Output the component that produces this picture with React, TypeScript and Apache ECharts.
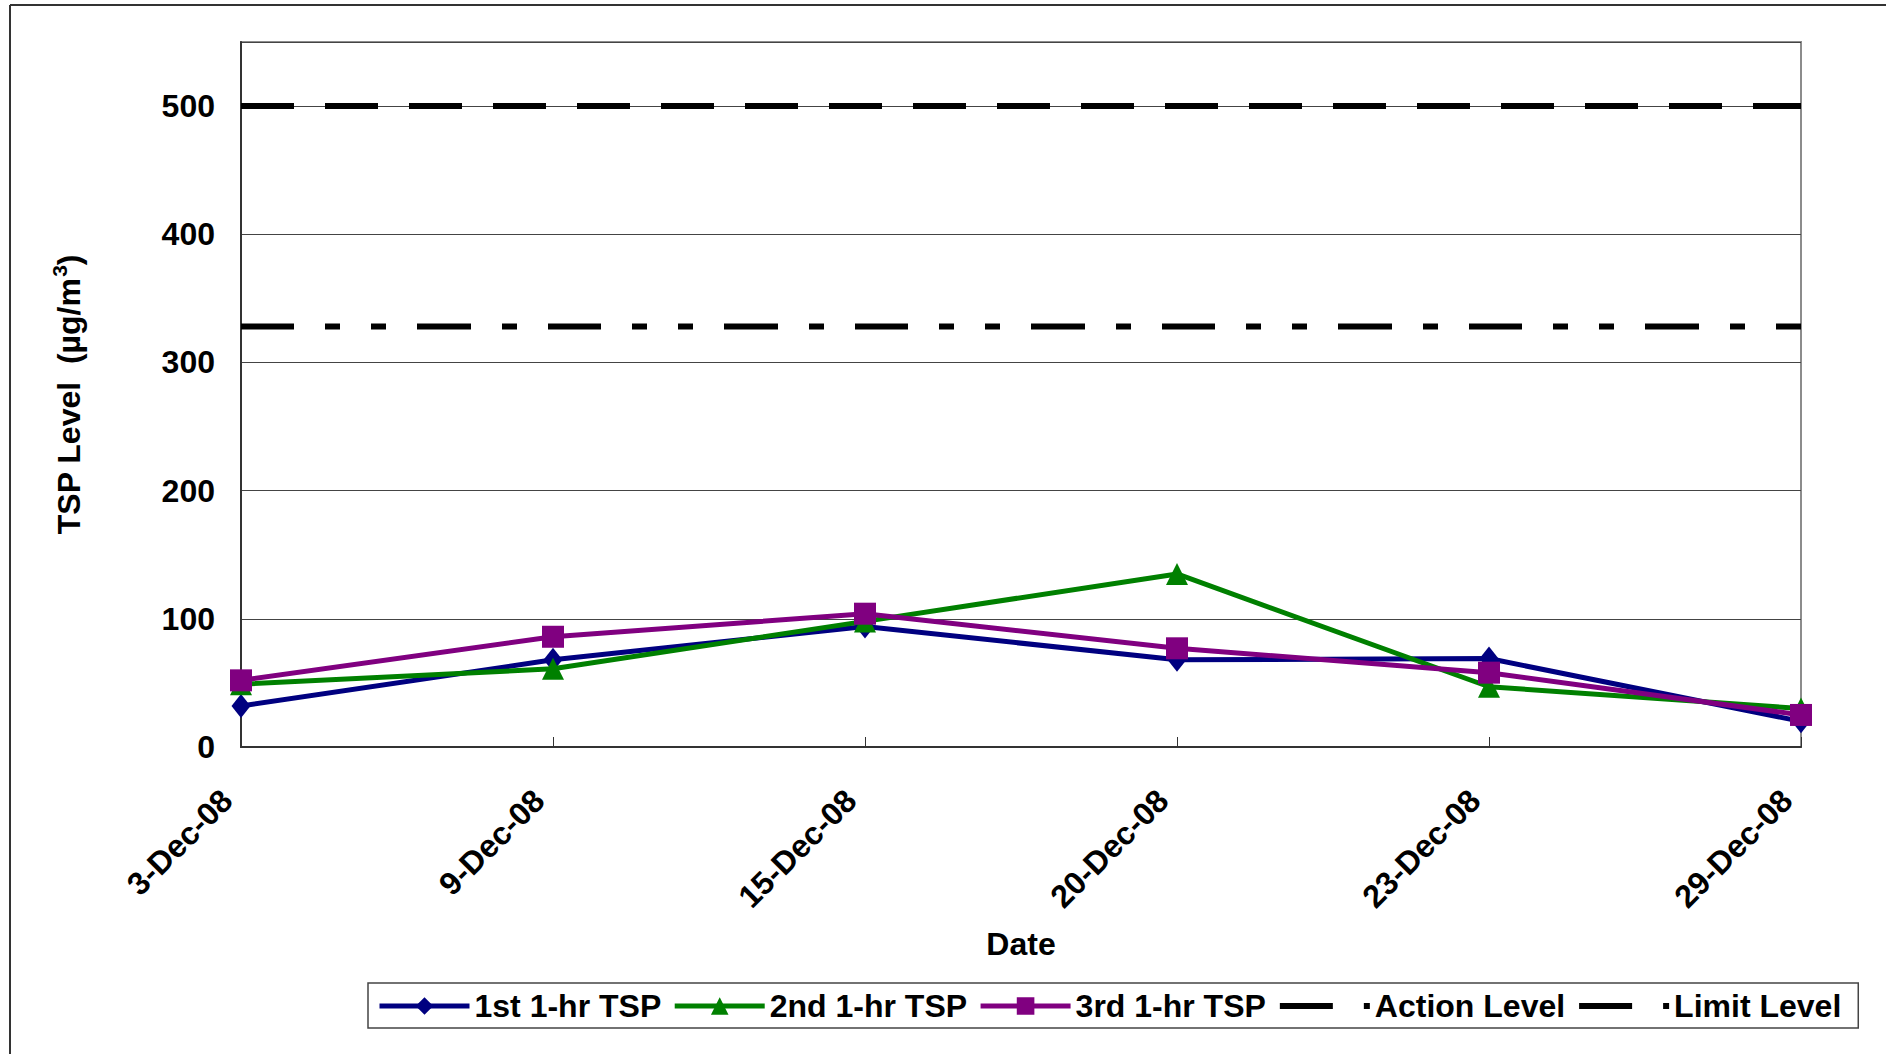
import React, { useEffect, useRef } from 'react';
import * as echarts from 'echarts';

const dates = ['3-Dec-08', '9-Dec-08', '15-Dec-08', '20-Dec-08', '23-Dec-08', '29-Dec-08'];
const tsp1 = [32, 68, 94, 68, 69, 20];
const tsp2 = [49, 61, 98, 135, 47, 30];
const tsp3 = [52, 86, 104, 77, 58, 25];
const actionLevel = [328, 328, 328, 328, 328, 328];
const limitLevel = [500, 500, 500, 500, 500, 500];
const seriesNames = ['1st 1-hr TSP', '2nd 1-hr TSP', '3rd 1-hr TSP', 'Action Level', 'Limit Level'];

const FONT = "'Liberation Sans', Arial, sans-serif";

export default function App() {
  const ref = useRef<HTMLDivElement>(null);
  useEffect(() => {
    if (!ref.current) return;
    const chart = echarts.init(ref.current, undefined, { renderer: 'svg' });
    const bold = { fontFamily: FONT, fontWeight: 'bold' as const, color: '#000', fontSize: 32 };
    chart.setOption({
      animation: false,
      backgroundColor: '#fff',
      grid: {
        left: 241, top: 42, width: 1560, height: 705,
        show: true, borderColor: '#8c8c8c', borderWidth: 2, backgroundColor: '#fff',
      },
      graphic: [
        { type: 'line', shape: { x1: 10, y1: 5, x2: 1886, y2: 5 }, style: { stroke: '#333', lineWidth: 2 } },
        { type: 'line', shape: { x1: 10, y1: 5, x2: 10, y2: 1054 }, style: { stroke: '#333', lineWidth: 2 } },
      ],
      xAxis: {
        type: 'category',
        data: dates,
        boundaryGap: false,
        name: 'Date',
        nameLocation: 'middle',
        nameGap: 181,
        nameTextStyle: bold,
        axisLine: { lineStyle: { color: '#333', width: 2 } },
        axisTick: { show: true, inside: true, length: 10, lineStyle: { color: '#333', width: 1 } },
        axisLabel: { ...bold, rotate: 45, margin: 34, padding: [0, 20, 0, 0], interval: 0 },
        splitLine: { show: false },
      },
      yAxis: {
        type: 'value',
        min: 0,
        max: 550,
        interval: 100,
        name: '{a|TSP Level  (µg/m}{s|3}{a|)}',
        nameLocation: 'middle',
        nameGap: 152,
        nameRotate: 90,
        nameTextStyle: {
          ...bold,
          rich: {
            a: { ...bold, lineHeight: 40 },
            s: { fontFamily: FONT, fontWeight: 'bold', color: '#000', fontSize: 21, verticalAlign: 'top', lineHeight: 40, padding: [0, 0, 0, 1] },
          },
        },
        axisLine: { show: true, lineStyle: { color: '#333', width: 2 } },
        axisTick: { show: false },
        axisLabel: {
          ...bold,
          margin: 26,
          showMaxLabel: false,
          formatter: (v: number) => (v === 550 ? '' : String(v)),
        },
        splitLine: { show: true, lineStyle: { color: '#444', width: 1 } },
      },
      legend: {
        left: 368,
        top: 983,
        orient: 'horizontal',
        itemWidth: 90,
        itemHeight: 22,
        itemGap: 11,
        padding: [7, 17, 6, 9],
        borderColor: '#444',
        borderWidth: 1.5,
        backgroundColor: '#fff',
        textStyle: { ...bold },
        lineStyle: { width: 'inherit' },
        data: seriesNames,
        selectedMode: false,
      },
      series: [
        {
          name: seriesNames[3], type: 'line', data: actionLevel, symbol: 'none', silent: true, z: 1,
          itemStyle: { color: 'rgba(0,0,0,0)' },
          lineStyle: { color: '#000', width: 6, type: [53, 31, 15, 31, 15, 31, 54, 31, 15, 31], cap: 'butt' },
        },
        {
          name: seriesNames[4], type: 'line', data: limitLevel, symbol: 'none', silent: true, z: 1,
          itemStyle: { color: 'rgba(0,0,0,0)' },
          lineStyle: { color: '#000', width: 6, type: [53, 31], cap: 'butt' },
        },
        {
          name: seriesNames[0], type: 'line', data: tsp1, symbol: 'diamond', symbolSize: [19, 24], z: 3,
          itemStyle: { color: '#000080' }, lineStyle: { color: '#000080', width: 5 },
        },
        {
          name: seriesNames[1], type: 'line', data: tsp2, symbol: 'triangle', symbolSize: [22, 22], z: 4,
          itemStyle: { color: '#008000' }, lineStyle: { color: '#008000', width: 5 },
        },
        {
          name: seriesNames[2], type: 'line', data: tsp3, symbol: 'rect', symbolSize: [22, 22], z: 5,
          itemStyle: { color: '#800080' }, lineStyle: { color: '#800080', width: 5 },
        },
      ],
    });
    return () => chart.dispose();
  }, []);
  return (
    <div
      ref={ref}
      style={{ position: 'fixed', left: 0, top: 0, width: 1886, height: 1054, background: '#fff' }}
    />
  );
}
